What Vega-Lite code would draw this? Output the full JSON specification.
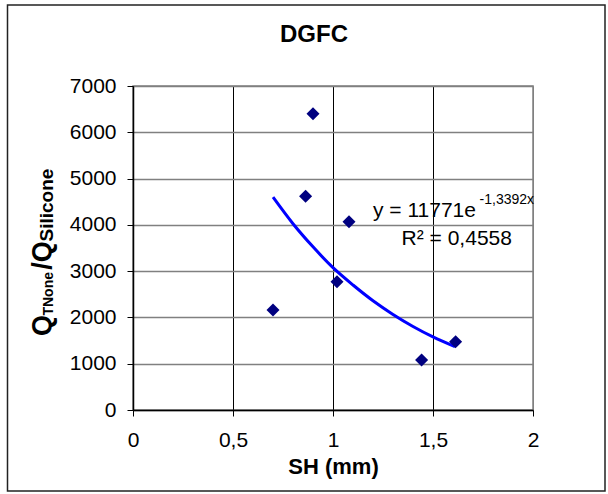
{
  "$schema": "https://vega.github.io/schema/vega-lite/v6.json",
  "width": 400,
  "height": 324,
  "autosize": {"type": "none"},
  "padding": {"left": 133, "top": 86, "right": 75, "bottom": 84},
  "background": "white",
  "title": {"text": "DGFC", "font": "Liberation Sans", "fontSize": 24, "fontWeight": "bold", "color": "black", "anchor": "middle", "frame": "group", "dx": -19, "baseline": "alphabetic", "offset": -62},
  "config": {
    "font": "Liberation Sans",
    "view": {"stroke": "#808080", "strokeWidth": 1.5}
  },
  "datasets": {
    "pts": [
      {"sh": 0.70, "q": 2160},
      {"sh": 0.863, "q": 4620},
      {"sh": 0.90, "q": 6400},
      {"sh": 1.02, "q": 2771},
      {"sh": 1.08, "q": 4067},
      {"sh": 1.443, "q": 1080},
      {"sh": 1.613, "q": 1475}
    ],
    "trend": [
      {"sh": 0.70, "q": 4600},
      {"sh": 0.80, "q": 4025},
      {"sh": 0.90, "q": 3525},
      {"sh": 1.0, "q": 3075},
      {"sh": 1.10, "q": 2700},
      {"sh": 1.20, "q": 2360},
      {"sh": 1.30, "q": 2065},
      {"sh": 1.40, "q": 1805},
      {"sh": 1.50, "q": 1580},
      {"sh": 1.61, "q": 1370}
    ],
    "one": [{}]
  },
  "layer": [
    {
      "data": {"name": "trend"},
      "mark": {"type": "line", "color": "#0000FF", "strokeWidth": 3, "interpolate": "monotone"},
      "encoding": {
        "x": {
          "field": "sh", "type": "quantitative",
          "scale": {"domain": [0, 2], "nice": false, "zero": false},
          "axis": {
            "values": [0, 0.5, 1, 1.5, 2],
            "labelExpr": "replace(format(datum.value, '~g'), '.', ',')",
            "title": "SH (mm)",
            "titleFont": "Liberation Sans", "titleFontSize": 22, "titleFontWeight": "bold", "titleColor": "black",
            "titlePadding": 6,
            "labelFont": "Liberation Sans", "labelFontSize": 21, "labelColor": "black", "labelFlush": false, "labelPadding": 13,
            "tickSize": 6, "tickColor": "black", "tickWidth": 1,
            "domainColor": "black", "domainWidth": 1.5,
            "grid": true, "gridWidth": 1,
            "gridColor": {"condition": {"test": "datum.value === 2", "value": "#808080"}, "value": "black"}
          }
        },
        "y": {
          "field": "q", "type": "quantitative",
          "scale": {"domain": [0, 7000], "nice": false},
          "axis": {
            "values": [0, 1000, 2000, 3000, 4000, 5000, 6000, 7000],
            "format": "d",
            "title": null,
            "labelFont": "Liberation Sans", "labelFontSize": 21, "labelColor": "black", "labelPadding": 11,
            "tickSize": 6, "tickColor": "black", "tickWidth": 1,
            "domainColor": "black", "domainWidth": 1.5,
            "grid": true, "gridColor": "#808080", "gridWidth": 1.5
          }
        }
      }
    },
    {
      "data": {"name": "pts"},
      "mark": {"type": "point", "shape": "diamond", "filled": true, "color": "#000080", "opacity": 1, "size": 170},
      "encoding": {
        "x": {"field": "sh", "type": "quantitative"},
        "y": {"field": "q", "type": "quantitative"}
      }
    },
    {
      "data": {"name": "one"},
      "mark": {"type": "text", "font": "Liberation Sans", "fontSize": 21, "color": "black", "align": "left", "baseline": "alphabetic"},
      "encoding": {
        "x": {"datum": 1.2, "type": "quantitative"},
        "y": {"datum": 4176, "type": "quantitative"},
        "text": {"value": "y = 11771e"}
      }
    },
    {
      "data": {"name": "one"},
      "mark": {"type": "text", "font": "Liberation Sans", "fontSize": 14, "color": "black", "align": "left", "baseline": "alphabetic"},
      "encoding": {
        "x": {"datum": 1.733, "type": "quantitative"},
        "y": {"datum": 4450, "type": "quantitative"},
        "text": {"value": "-1,3392x"}
      }
    },
    {
      "data": {"name": "one"},
      "mark": {"type": "text", "font": "Liberation Sans", "fontSize": 21, "color": "black", "align": "left", "baseline": "alphabetic"},
      "encoding": {
        "x": {"datum": 1.343, "type": "quantitative"},
        "y": {"datum": 3565, "type": "quantitative"},
        "text": {"value": "R² = 0,4558"}
      }
    },
    {
      "data": {"name": "one"},
      "mark": {"type": "text", "font": "Liberation Sans", "fontSize": 27, "fontWeight": "bold", "color": "black", "align": "left", "baseline": "alphabetic", "angle": 270, "clip": false},
      "encoding": {
        "x": {"datum": -0.41, "type": "quantitative"},
        "y": {"datum": 1600, "type": "quantitative"},
        "text": {"value": "Q"}
      }
    },
    {
      "data": {"name": "one"},
      "mark": {"type": "text", "font": "Liberation Sans", "fontSize": 14, "fontWeight": "bold", "color": "black", "align": "left", "baseline": "alphabetic", "angle": 270, "clip": false},
      "encoding": {
        "x": {"datum": -0.40, "type": "quantitative"},
        "y": {"datum": 2040, "type": "quantitative"},
        "text": {"value": "TNone"}
      }
    },
    {
      "data": {"name": "one"},
      "mark": {"type": "text", "font": "Liberation Sans", "fontSize": 27, "fontWeight": "bold", "color": "black", "align": "left", "baseline": "alphabetic", "angle": 270, "clip": false},
      "encoding": {
        "x": {"datum": -0.41, "type": "quantitative"},
        "y": {"datum": 3030, "type": "quantitative"},
        "text": {"value": "/Q"}
      }
    },
    {
      "data": {"name": "one"},
      "mark": {"type": "text", "font": "Liberation Sans", "fontSize": 19, "fontWeight": "bold", "color": "black", "align": "left", "baseline": "alphabetic", "angle": 270, "clip": false},
      "encoding": {
        "x": {"datum": -0.40, "type": "quantitative"},
        "y": {"datum": 3640, "type": "quantitative"},
        "text": {"value": "Silicone"}
      }
    },
    {
      "data": {"name": "one"},
      "mark": {"type": "rect", "fill": null, "stroke": "#222222", "strokeWidth": 1.5, "clip": false},
      "encoding": {
        "x": {"datum": -0.6275, "type": "quantitative"},
        "x2": {"datum": 2.36},
        "y": {"datum": 8750, "type": "quantitative"},
        "y2": {"datum": -1750}
      }
    }
  ]
}
